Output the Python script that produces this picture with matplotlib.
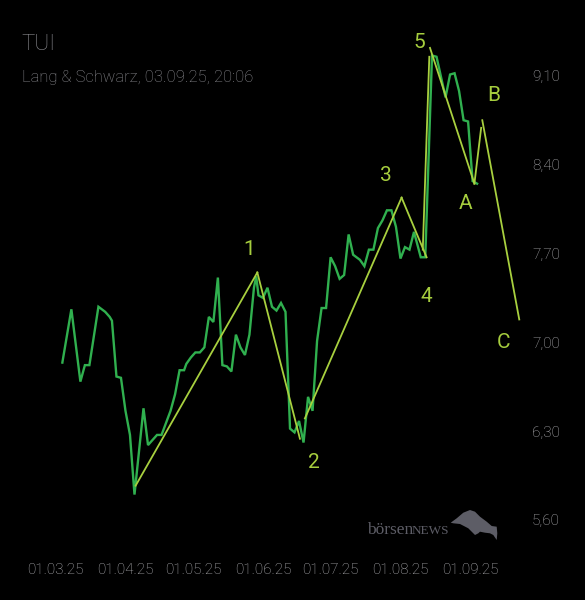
import matplotlib
matplotlib.use("Agg")
import matplotlib.pyplot as plt
import matplotlib.dates as mdates
import pandas as pd
from matplotlib.patches import Polygon
from matplotlib.ticker import FuncFormatter, FixedLocator

plt.rcParams['font.family'] = ['Roboto', 'DejaVu Sans']
plt.rcParams['font.weight'] = 'light'

BASE = pd.Timestamp("2025-03-01")

# price series: day offset from 01.03.25 and closing value (EUR)
price_days = [3, 7, 11, 13, 15, 19, 22, 24, 25, 27, 29, 31, 33, 35, 39, 41, 45, 47,
              51, 53, 55, 57, 58, 60, 62, 64, 66, 68, 70, 72, 74, 76, 78, 80, 82, 84,
              86, 88, 89, 90, 92, 94, 96, 98, 100, 102, 104, 106, 108, 110, 112, 114,
              116, 118, 120, 122, 124, 126, 128, 130, 132, 135, 137, 139, 141, 143,
              145, 147, 149, 151, 153, 155, 157, 159, 162, 164, 167, 169, 173, 175,
              177, 179, 181, 183, 185, 187]
price_values = [6.84, 7.26, 6.69, 6.82, 6.82, 7.28, 7.24, 7.20, 7.17, 6.73, 6.72, 6.46,
                6.27, 5.80, 6.48, 6.19, 6.27, 6.27, 6.46, 6.59, 6.78, 6.78, 6.83, 6.88,
                6.92, 6.92, 6.96, 7.20, 7.16, 7.51, 6.82, 6.81, 6.77, 7.06, 6.96, 6.90,
                7.06, 7.43, 7.52, 7.37, 7.35, 7.43, 7.28, 7.25, 7.31, 7.24, 6.32, 6.29,
                6.38, 6.21, 6.57, 6.46, 7.01, 7.27, 7.27, 7.67, 7.60, 7.50, 7.53, 7.85,
                7.69, 7.65, 7.60, 7.73, 7.73, 7.90, 7.96, 8.04, 8.04, 7.91, 7.66, 7.75,
                7.73, 7.87, 7.67, 7.67, 9.26, 9.25, 8.93, 9.11, 9.12, 8.98, 8.75, 8.74,
                8.27, 8.25]

# Elliott wave segments: start day, start value, end day, end value
wave_start_days = [35.5, 89.5, 110.6, 153.5, 162.9, 166.1, 185.8, 189.3]
wave_start_vals = [5.87, 7.55, 6.40, 8.14, 7.73, 9.32, 8.25, 8.75]
wave_end_days = [89.5, 108.4, 153.5, 164.6, 165.8, 185.8, 188.8, 205.7]
wave_end_vals = [7.55, 6.24, 8.14, 7.67, 9.25, 8.25, 8.69, 7.18]

# wave labels
wave_labels = ["1", "2", "3", "4", "5", "A", "B", "C"]
wave_label_days = [85.8, 114.7, 146.7, 164.5, 161.2, 181.9, 194.2, 198.7]
wave_label_vals = [7.735, 6.05, 8.318, 7.359, 9.364, 8.09, 8.946, 7.00]

y_ticks = [5.60, 6.30, 7.00, 7.70, 8.40, 9.10]

title = "TUI"
subtitle = "Lang & Schwarz, 03.09.25, 20:06"

GREEN = "#30b04f"
WAVE = "#a8d03f"
LABEL = "#a6cd3e"
GRAY = "#8c8c91"
TICK = "#b6b6ba"

W, H = 585, 600
fig = plt.figure(figsize=(W / 100, H / 100), dpi=100, facecolor="black")
ax = fig.add_axes([15 / W, 50 / H, 510 / W, 530 / H])
ax.set_facecolor("black")

def to_date(d):
    return mdates.date2num(BASE + pd.to_timedelta(d, unit="D"))

px = [to_date(d) for d in price_days]
ax.plot(px, price_values, color=GREEN, lw=1.7, solid_joinstyle="miter")

for d0, v0, d1, v1 in zip(wave_start_days, wave_start_vals, wave_end_days, wave_end_vals):
    ax.plot([to_date(d0), to_date(d1)], [v0, v1], color=WAVE, lw=1.3)

for lab, d, v in zip(wave_labels, wave_label_days, wave_label_vals):
    ax.text(to_date(d), v, lab, color=LABEL, fontsize=15, weight="normal",
            ha="center", va="center")

ax.set_xlim(to_date(-18.01), to_date(208.25))
ax.set_ylim(5.3632, 9.5397)

ax.xaxis.set_major_locator(mdates.MonthLocator())
ax.xaxis.set_major_formatter(mdates.DateFormatter("%d.%m.%y"))
ax.yaxis.set_major_locator(FixedLocator(y_ticks))
ax.yaxis.set_major_formatter(FuncFormatter(lambda v, _: f"{v:.2f}".replace(".", ",")))
ax.yaxis.tick_right()
ax.tick_params(axis="both", length=0, colors=TICK, labelsize=11)
ax.tick_params(axis="x", pad=9)
ax.tick_params(axis="y", pad=5)
for s in ax.spines.values():
    s.set_visible(False)

fig.text(21.7 / W, 1 - 49.5 / H, title, color=GRAY, fontsize=16, ha="left", va="baseline")
fig.text(21.7 / W, 1 - 81.7 / H, subtitle, color=GRAY, fontsize=12, ha="left", va="baseline")

# watermark
WM = "#5d5d66"
fig.text(366.7 / W, 1 - 534.3 / H, "börsen", color=WM, fontsize=12.5,
         family="Liberation Serif", weight="normal", ha="left", va="baseline")
fig.text(411.7 / W, 1 - 534.3 / H, "NEWS", color=WM, fontsize=9.5,
         family="Liberation Serif", weight="normal", ha="left", va="baseline")
bull = [(450.7, 522.7), (456.7, 518.3), (463.3, 512.7), (470, 510), (475, 511.7),
        (480, 516.7), (486.7, 521.7), (491.7, 526), (496.7, 526.7), (497.3, 533.3),
        (496.7, 540), (493.3, 535), (490, 533.3), (485, 532.7), (480, 531.7),
        (478.3, 533.3), (475, 535), (471.7, 531.7), (468.3, 528.3), (460, 524),
        (453.3, 523.3)]
fig.patches.append(Polygon([(x / W, 1 - y / H) for x, y in bull], closed=True,
                           transform=fig.transFigure, facecolor=WM, edgecolor="none"))

fig.savefig("out.png", dpi=100, facecolor="black")
